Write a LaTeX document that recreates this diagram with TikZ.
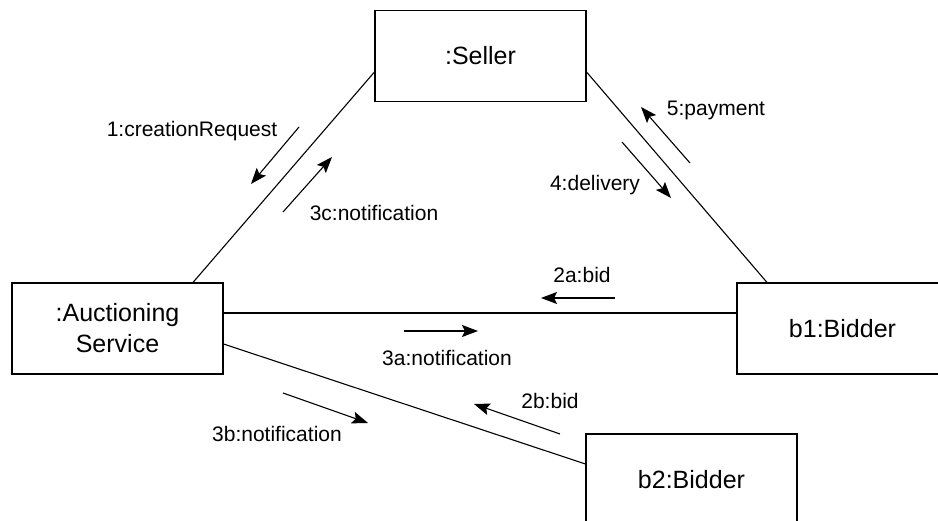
\documentclass[tikz,border=0pt]{standalone}
\usepackage{fontspec}
\setmainfont{Liberation Sans}
\usetikzlibrary{arrows.meta}
\begin{document}
\begin{tikzpicture}[x=1pt,y=-1pt,
  objbox/.style={draw,line width=1.1pt,minimum width=211pt,minimum height=91pt,inner sep=0pt,align=center,font=\fontsize{25}{31}\selectfont},
  link/.style={line width=1.1pt},
  msg/.style={line width=1.1pt,-{Stealth[length=16pt,width=12pt,inset=3pt]}},
  lbl/.style={font=\fontsize{21}{25}\selectfont,inner sep=0pt}]
\useasboundingbox (0,0) rectangle (938,521);
\clip (0,0) rectangle (938,521);
\node[objbox] (seller) at (480.5,56) {:Seller};
\node[objbox] (auc) at (117.5,328.5) {:Auctioning\\Service};
\node[objbox] (b1) at (842.5,328.5) {b1:Bidder};
\node[objbox] (b2) at (691.5,479.5) {b2:Bidder};
% links
\draw[link] ([yshift=-16pt]seller.west) -- ([xshift=75.5pt]auc.north);
\draw[link] ([yshift=-16pt]seller.east) -- ([xshift=-75.5pt]b1.north);
\draw[link] ([yshift=15.5pt]auc.east) -- ([yshift=15.5pt]b1.west);
\draw[link] ([yshift=-15.5pt]auc.east) -- ([yshift=15.5pt]b2.west);
% message arrow ends
\coordinate (m1s) at (299,127); \coordinate (m1e) at (251,184);
\coordinate (m3cs) at (283,212); \coordinate (m3ce) at (332,157);
\coordinate (m5s) at (690,163); \coordinate (m5e) at (641,107);
\coordinate (m4s) at (622,142); \coordinate (m4e) at (671,198);
\coordinate (m2as) at (615,298); \coordinate (m2ae) at (541,298);
\coordinate (m3as) at (404,331); \coordinate (m3ae) at (478,331);
\coordinate (m3bs) at (283,393); \coordinate (m3be) at (368,423);
\coordinate (m2bs) at (560,434); \coordinate (m2be) at (474,404);
\draw[msg] (m1s) -- (m1e);
\draw[msg] (m3cs) -- (m3ce);
\draw[msg] (m5s) -- (m5e);
\draw[msg] (m4s) -- (m4e);
\draw[msg] (m2as) -- (m2ae);
\draw[msg] (m3as) -- (m3ae);
\draw[msg] (m3bs) -- (m3be);
\draw[msg] (m2bs) -- (m2be);
% labels
\node[lbl] (l1) at (192,131) {1:creationRequest};
\node[lbl] (l3c) at (374,213) {3c:notification};
\node[lbl] (l5) at (716,110) {5:payment};
\node[lbl] (l4) at (595,185) {4:delivery};
\node[lbl] (l2a) at (582,275) {2a:bid};
\node[lbl] (l3a) at (447,358) {3a:notification};
\node[lbl] (l3b) at (277,434) {3b:notification};
\node[lbl] (l2b) at (550,401) {2b:bid};
\end{tikzpicture}
\end{document}
